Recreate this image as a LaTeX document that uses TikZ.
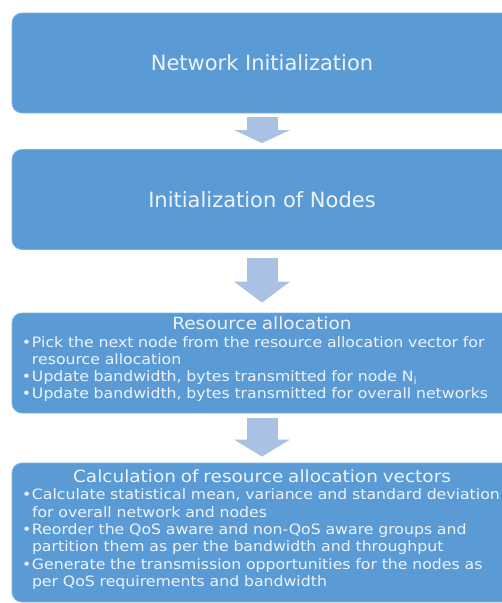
\documentclass[tikz,border=0pt]{standalone}
\usepackage{fontspec}
\setmainfont{DejaVu Sans}
\newfontfamily\stagefont[FakeStretch=1.1]{DejaVu Sans}
\usetikzlibrary{arrows.meta}

\definecolor{boxblue}{RGB}{91,155,213}
\definecolor{boxline}{RGB}{128,178,224}
\definecolor{arrowblue}{RGB}{169,194,228}
\definecolor{boxtext}{RGB}{238,243,250}

\newcommand{\stagetitle}[1]{{\centering\fontsize{16.8}{20}\selectfont #1\par}}
\newcommand{\stageitem}[1]{\par\noindent\makebox[10pt][l]{\textbullet}#1}
\newcommand{\stagemore}[1]{\par\noindent\hspace*{10pt}#1}

\begin{document}
\begin{tikzpicture}[x=1pt,y=-1pt]
		\tikzset{stage/.style={draw=boxline,line width=0.8pt,fill=boxblue,rounded corners=10pt,text=boxtext,inner xsep=10pt,inner ysep=2pt}}
		\tikzset{headstage/.style={stage,minimum width=500pt,minimum height=100pt,font=\fontsize{21}{25}\selectfont}}
		\tikzset{liststage/.style={stage,text width=480pt,font=\stagefont\fontsize{14.3}{17.3}\selectfont}}
		\tikzset{stagearrow/.style={arrowblue,line width=31pt,-{Triangle[length=#1,width=55pt]}}}
		\useasboundingbox (0,0) rectangle (502,603);
		\clip (0,0) rectangle (502,603);
		\node[headstage] (netinit) at (262,63) {Network Initialization};
		\node[headstage] (nodeinit) at (262,199.5) {Initialization of Nodes};
		\node[liststage,minimum height=100pt] (alloc) at (262,363) {\stagetitle{Resource allocation}
			\stageitem{Pick the next node from the resource allocation vector for}
			\stagemore{resource allocation}
			\stageitem{Update bandwidth, bytes transmitted for node N\textsubscript{i}}
			\stageitem{Update bandwidth, bytes transmitted for overall networks}\par\vspace{7pt}};
		\node[liststage,minimum height=139pt] (vectors) at (262,532.5) {\stagetitle{Calculation of resource allocation vectors}
			\stageitem{Calculate statistical mean, variance and standard deviation}
			\stagemore{for overall network and nodes}
			\stageitem{Reorder the QoS aware and non-QoS aware groups and}
			\stagemore{partition them as per the bandwidth and throughput}
			\stageitem{Generate the transmission opportunities for the nodes as}
			\stagemore{per QoS requirements and bandwidth}\par\vspace{6pt}};
		\draw[stagearrow=13pt,shorten <=4pt,shorten >=6pt] (netinit.south) -- (nodeinit.north);
		\draw[stagearrow=21pt,shorten <=8pt,shorten >=10pt] (nodeinit.south) -- (alloc.north);
		\draw[stagearrow=17pt,shorten <=5pt,shorten >=6pt] (alloc.south) -- (vectors.north);
\end{tikzpicture}
\end{document}
